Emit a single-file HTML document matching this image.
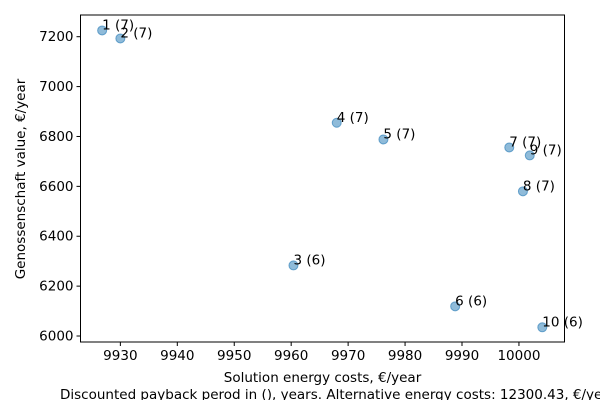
<!DOCTYPE html>
<html><head><meta charset="utf-8"><style>
body{margin:0;background:#fff}
svg text{font-family:"DejaVu Sans","Liberation Sans",sans-serif;font-size:13.5px;fill:#000}
</style></head><body>
<svg width="600" height="400" id="chart">
<g id="plot"></g>
</svg>
<script>
const labels=["1 (7)","2 (7)","3 (6)","4 (7)","5 (7)","6 (6)","7 (7)","8 (7)","9 (7)","10 (6)"];
const xs=[9926.8,9930,9960.4,9968,9976.2,9988.8,9998.3,10000.7,10001.9,10004.1];
const ys=[7225,7193,6283,6855,6788,6119,6756,6580,6724,6035];
const xTicks=[9930,9940,9950,9960,9970,9980,9990,10000];
const yTicks=[6000,6200,6400,6600,6800,7000,7200];
const L=80.5,R=564.5,T=15,B=342;
const x0=9923,x1=10008,y0=5976,y1=7287;
const sx=v=>L+(v-x0)/(x1-x0)*(R-L);
const sy=v=>B-(v-y0)/(y1-y0)*(B-T);
const svg=document.getElementById('chart');
const NS='http://www.w3.org/2000/svg';
function mk(t,a){const e=document.createElementNS(NS,t);for(const k in a)e.setAttribute(k,a[k]);svg.appendChild(e);return e;}
xTicks.forEach(v=>{
 const l=mk('line',{x1:sx(v),x2:sx(v),y1:B,y2:B+4,stroke:'#000'});
 
 
 const t=mk('text',{x:sx(v),y:B+18,'text-anchor':'middle'});t.textContent=v;
 
 
});
yTicks.forEach(v=>{
 const l=mk('line',{x1:L-4,x2:L,y1:sy(v),y2:sy(v),stroke:'#000'});
 
 
 const t=mk('text',{x:L-7,y:sy(v)+4.5,'text-anchor':'end'});t.textContent=v;
 
 
});
xs.forEach((v,i)=>{
 const c=mk('circle',{cx:sx(v),cy:sy(ys[i]),r:4.5,fill:'rgba(31,119,180,0.5)',stroke:'rgba(31,119,180,0.6)','stroke-width':1});
 
 
 const t=mk('text',{x:sx(v),y:sy(ys[i])-1});t.textContent=labels[i];
 
 
});
const f=mk('rect',{x:L,y:T,width:R-L,height:B-T,fill:'none',stroke:'#000','stroke-width':1});


const xl=mk('text',{x:(L+R)/2,y:382,'text-anchor':'middle'});xl.textContent='Solution energy costs, €/year';


const x2=mk('text',{x:60,y:399});x2.textContent='Discounted payback perod in (), years. Alternative energy costs: 12300.43, €/year';


const yl=mk('text',{x:0,y:0,'text-anchor':'middle',transform:'translate(25,179) rotate(-90)'});yl.textContent='Genossenschaft value, €/year';


</script>
</body></html>
